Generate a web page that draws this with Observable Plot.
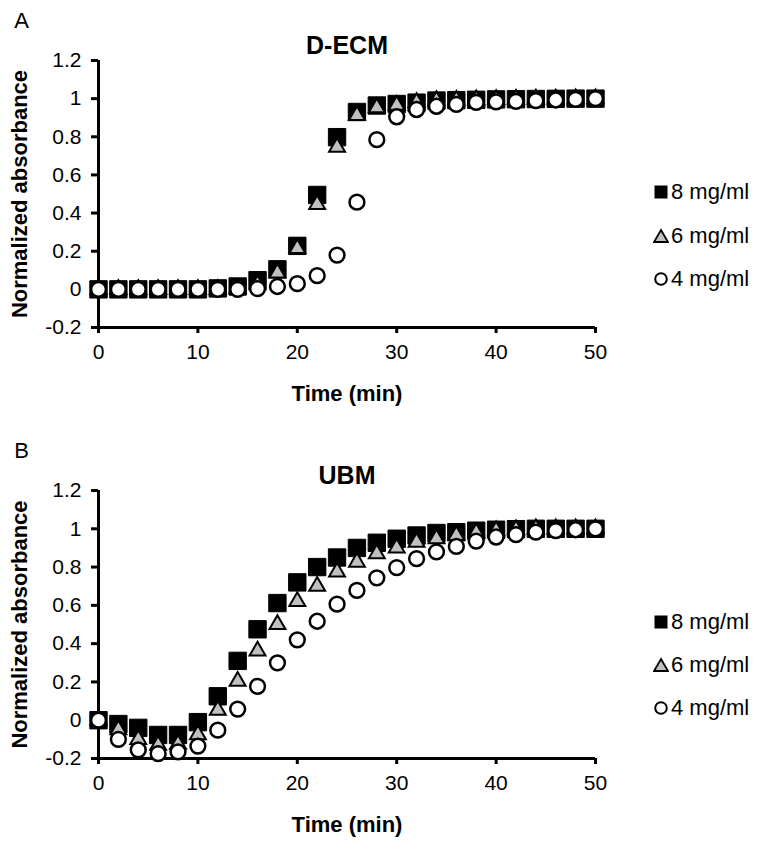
<!DOCTYPE html>
<html><head><meta charset="utf-8">
<script src="https://cdn.jsdelivr.net/npm/d3@7"></script>
<script src="https://cdn.jsdelivr.net/npm/@observablehq/plot@0.6"></script>
<style>
body{margin:0;background:#fff;font-family:"Liberation Sans",Arial,sans-serif;}
#root{position:relative;width:762px;height:846px;overflow:hidden;}
.panel{position:absolute;left:0;}
.item{position:absolute;left:653px;height:24px;display:flex;align-items:center;white-space:nowrap;font-size:22px;color:#000;}
.item svg{margin-right:2px;}
</style></head><body><div id="root"></div>
<script>
// time points (min)
const time = [0,2,4,6,8,10,12,14,16,18,20,22,24,26,28,30,32,34,36,38,40,42,44,46,48,50];
const seriesNames = ["8 mg/ml","6 mg/ml","4 mg/ml"];
const panelTitles = ["D-ECM","UBM"];
const panelLetters = ["A","B"];

// Panel A: D-ECM
const decm8 = [0,0,0,0,0,0,0.005,0.015,0.048,0.105,0.228,0.495,0.798,0.93,0.964,0.972,0.979,0.99,0.992,0.994,0.996,0.997,0.998,0.999,1,1];
const decm6 = [0,0,0,0,0,0,0,0.005,0.025,0.086,0.215,0.445,0.745,0.912,0.953,0.966,0.98,0.99,0.992,0.994,0.996,0.997,0.998,0.999,1,1];
const decm4 = [0,0,0,0,0,0,0,0,0.004,0.015,0.03,0.072,0.18,0.457,0.785,0.905,0.943,0.96,0.97,0.98,0.983,0.986,0.99,0.993,0.996,1];

// Panel B: UBM
const ubm8 = [0,-0.02,-0.04,-0.077,-0.077,-0.01,0.125,0.31,0.475,0.612,0.72,0.8,0.85,0.9,0.927,0.948,0.965,0.978,0.982,0.99,0.995,0.998,1,1,1,1];
const ubm6 = [0,-0.05,-0.1,-0.13,-0.125,-0.075,0.052,0.204,0.362,0.5,0.62,0.7,0.775,0.826,0.87,0.9,0.93,0.948,0.965,0.98,0.99,0.995,1,1,1,1];
const ubm4 = [0,-0.1,-0.155,-0.175,-0.165,-0.135,-0.052,0.058,0.177,0.3,0.42,0.517,0.606,0.678,0.744,0.797,0.844,0.879,0.908,0.936,0.957,0.97,0.983,0.99,0.995,1];

// axis ticks
const yTicks = [-0.2,0,0.2,0.4,0.6,0.8,1,1.2];
const yTickLabels = ["-0.2","0","0.2","0.4","0.6","0.8","1","1.2"];
const xTicks = [0,10,20,30,40,50];
const xTickLabels = ["0","10","20","30","40","50"];
const xLabel = "Time (min)";
const yLabel = "Normalized absorbance";

const font = "Liberation Sans, Arial, sans-serif";

function rows(arr, s) { return time.map((t, i) => ({t, v: arr[i], s})); }

function makePanel(idx, d8, d6, d4, mt, mb) {
  return Plot.plot({
    width: 762, height: 423,
    marginLeft: 98, marginRight: 167, marginTop: mt, marginBottom: mb,
    style: {fontFamily: font, background: "transparent", color: "black", overflow: "visible"},
    x: {domain: [0, 50]},
    y: {domain: [-0.2, 1.2]},
    marks: [
      Plot.ruleX([0], {y1: -0.2, y2: 1.2, stroke: "black", strokeWidth: 3}),
      Plot.ruleY([-0.2], {x1: 0, x2: 50, stroke: "black", strokeWidth: 3}),
      Plot.axisY({ticks: yTicks, tickFormat: d => yTickLabels[yTicks.indexOf(d)], tickSize: 7, strokeWidth: 3, tickPadding: 10, fontSize: 21, label: null}),
      Plot.axisX({ticks: xTicks, tickFormat: d => xTickLabels[xTicks.indexOf(d)], tickSize: 6, strokeWidth: 3, tickPadding: 11, fontSize: 21, label: null}),
      Plot.dot(rows(d8, seriesNames[0]), {x: "t", y: "v", symbol: "square", r: 9.8, fill: "black", stroke: "black", strokeWidth: 1}),
      Plot.dot(rows(d6, seriesNames[1]), {x: "t", y: "v", symbol: "triangle", r: 5.9, fill: "#c0c0c0", stroke: "black", strokeWidth: 2}),
      Plot.dot(rows(d4, seriesNames[2]), {x: "t", y: "v", symbol: "circle", r: 7.4, fill: "white", stroke: "black", strokeWidth: 2.5}),
      Plot.text([panelTitles[idx]], {frameAnchor: "top", dy: -15, lineAnchor: "middle", textAnchor: "middle", fontSize: 25, fontWeight: "bold", fill: "black"}),
      Plot.text([xLabel], {frameAnchor: "bottom", dy: 66, lineAnchor: "middle", textAnchor: "middle", fontSize: 22, fontWeight: "bold", fill: "black"}),
      Plot.text([yLabel], {frameAnchor: "left", dx: -79, rotate: -90, lineAnchor: "middle", textAnchor: "middle", fontSize: 22, fontWeight: "bold", fill: "black"}),
      Plot.text([panelLetters[idx]], {frameAnchor: "top-left", dx: -77, dy: -40, lineAnchor: "middle", textAnchor: "middle", fontSize: 22, fill: "black"})
    ]
  });
}

const root = document.getElementById("root");
const panels = [
  {idx: 0, d: [decm8, decm6, decm4], top: 0, mt: 60, mb: 96, legendY: [192, 236, 279]},
  {idx: 1, d: [ubm8, ubm6, ubm4], top: 423, mt: 67, mb: 88, legendY: [622, 665, 708]}
];
const legendSymbols = [
  '<svg width="16" height="16"><rect x="1.5" y="1.5" width="13" height="13" fill="black"/></svg>',
  '<svg width="16" height="16"><path d="M8,2 L15,14 L1,14 Z" fill="#c0c0c0" stroke="black" stroke-width="1.8"/></svg>',
  '<svg width="16" height="16"><circle cx="8" cy="8" r="5.8" fill="white" stroke="black" stroke-width="2"/></svg>'
];
for (const p of panels) {
  const div = document.createElement("div");
  div.className = "panel";
  div.style.top = p.top + "px";
  div.appendChild(makePanel(p.idx, p.d[0], p.d[1], p.d[2], p.mt, p.mb));
  root.appendChild(div);
  seriesNames.forEach((name, i) => {
    const it = document.createElement("div");
    it.className = "item";
    it.style.top = (p.legendY[i] - 12) + "px";
    it.innerHTML = legendSymbols[i] + "<span>" + name + "</span>";
    root.appendChild(it);
  });
}
</script>
</body></html>
